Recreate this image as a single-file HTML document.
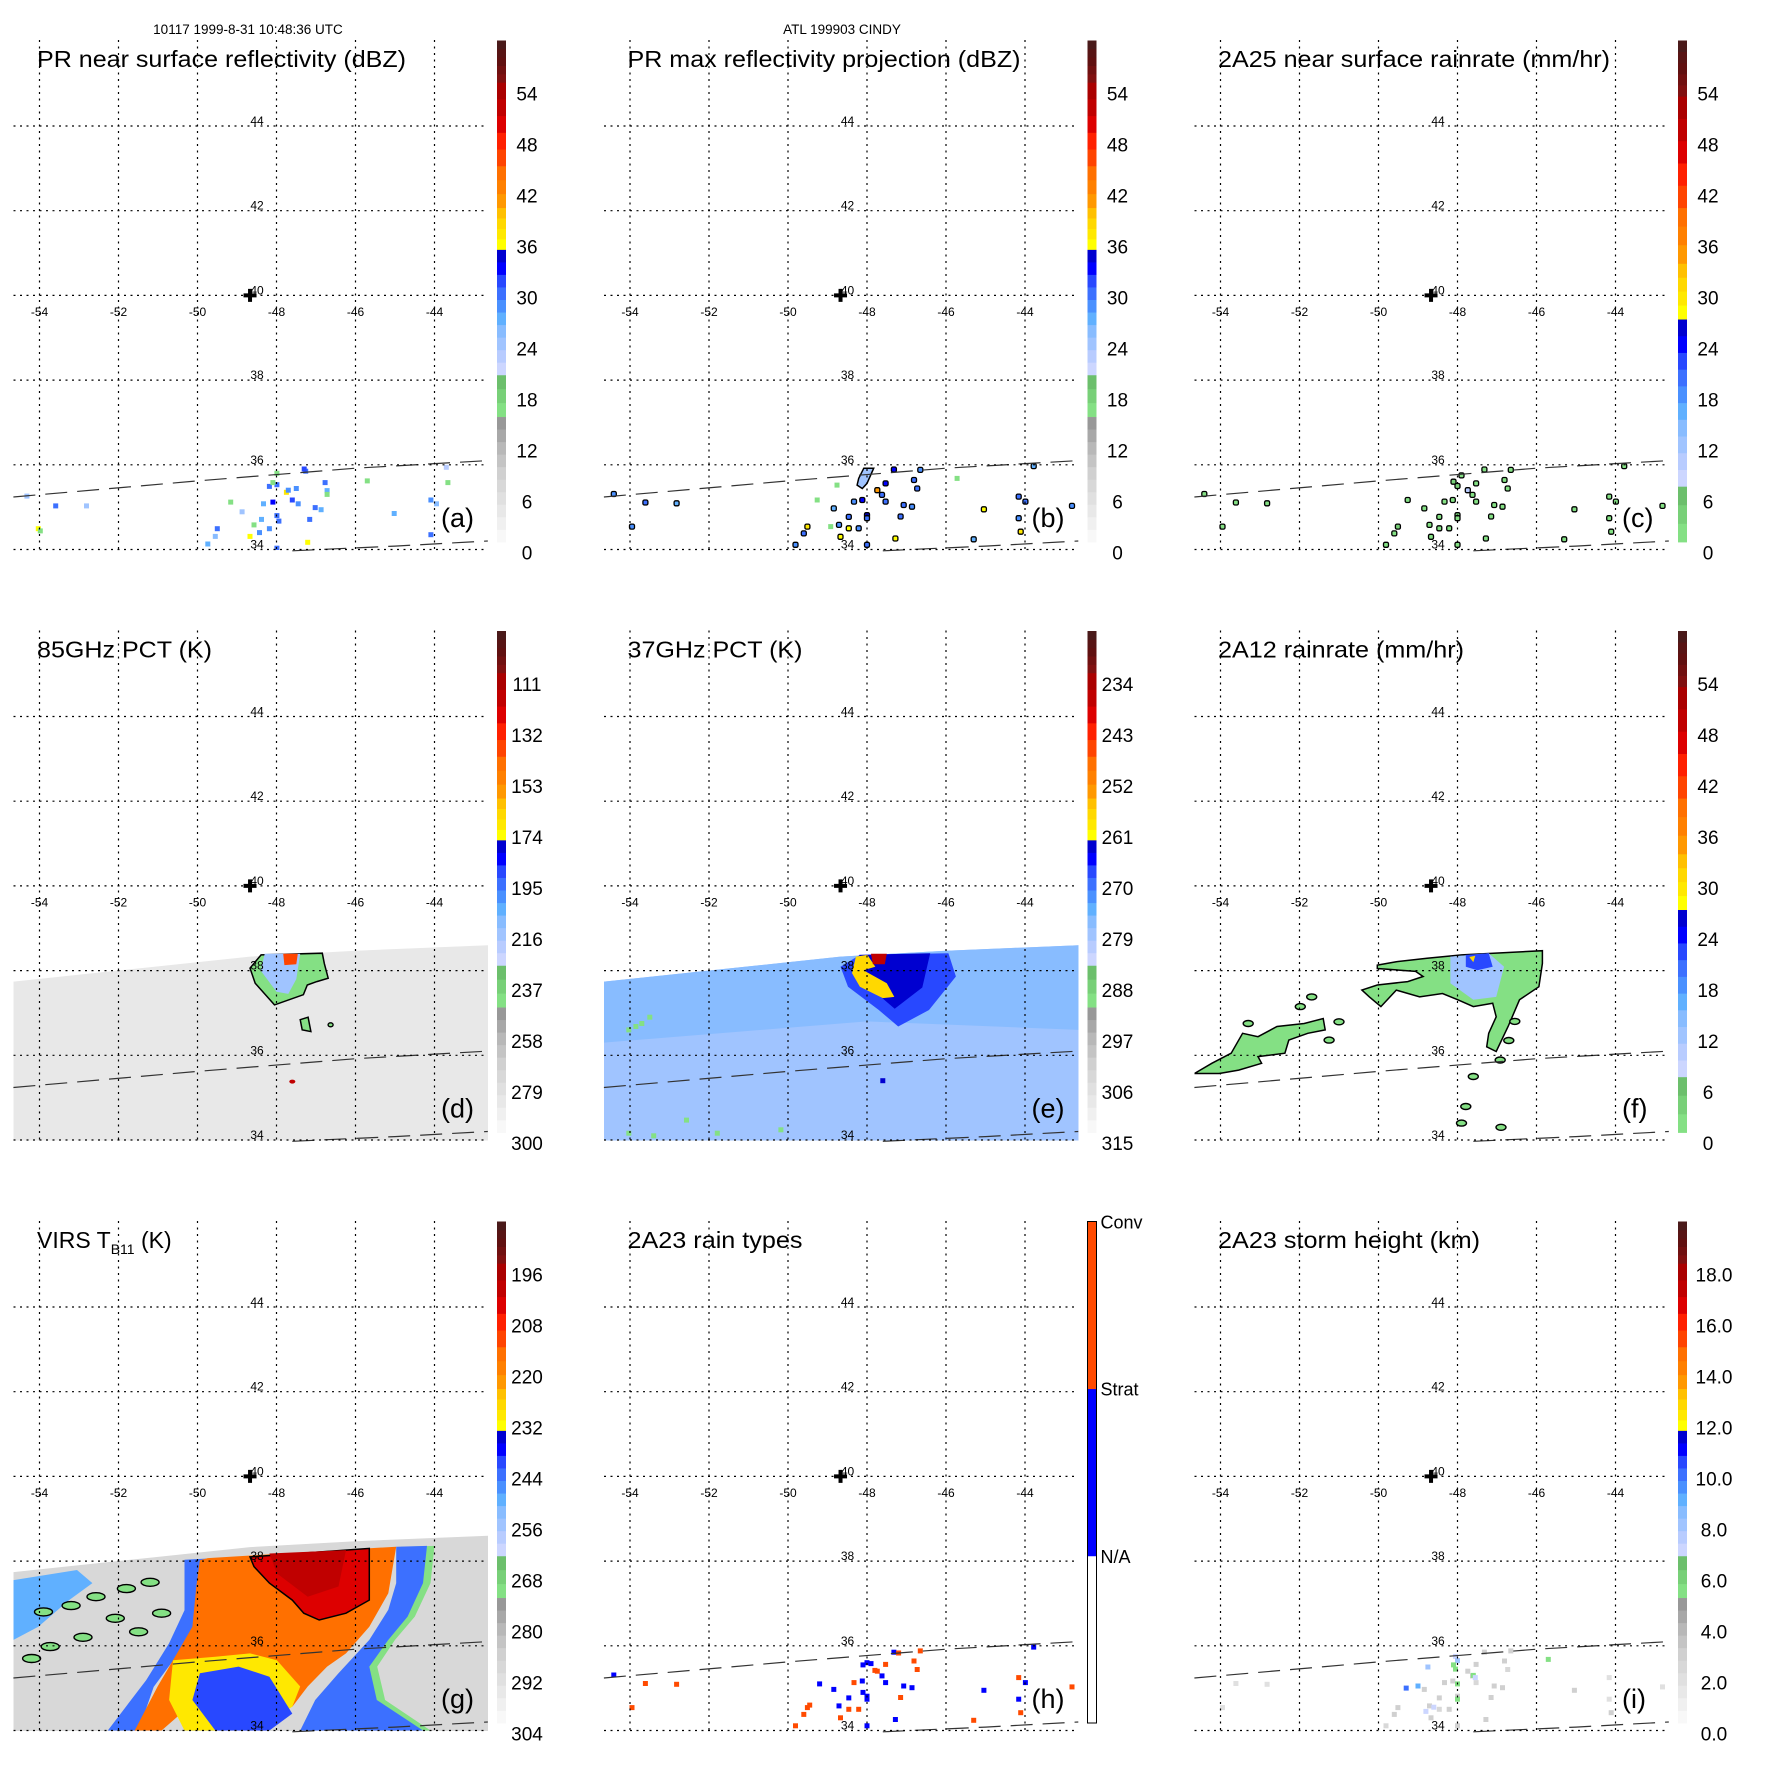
<!DOCTYPE html>
<html><head><meta charset="utf-8"><title>TRMM CINDY 1999 nine-panel</title>
<style>
html,body{margin:0;padding:0;background:#fff;}
svg{display:block;font-family:"Liberation Sans",Arial,sans-serif;}
</style></head>
<body>
<svg id="fig" width="1771" height="1771" viewBox="0 0 1771 1771" xmlns="http://www.w3.org/2000/svg">
<rect x="0" y="0" width="1771" height="1771" fill="#fff"/>
<text x="248" y="34" font-size="13.5" text-anchor="middle">10117 1999-8-31 10:48:36 UTC</text>
<text x="842" y="34" font-size="13.5" text-anchor="middle">ATL 199903 CINDY</text>
<defs id="defs"></defs>
</svg>
<script>
// ---------- DATA ----------
const lonTicks = [-54, -52, -50, -48, -46, -44];
const latTicks = [34, 36, 38, 40, 42, 44];
const centerLon = -48.67;
const centerLat = 40.0;

const labelsA = ["0","6","12","18","24","30","36","42","48","54"];
const labelsB = ["0","6","12","18","24","30","36","42","48","54"];
const labelsC = ["0","6","12","18","24","30","36","42","48","54"];
const labelsD = ["300","279","258","237","216","195","174","153","132","111"];
const labelsE = ["315","306","297","288","279","270","261","252","243","234"];
const labelsF = ["0","6","12","18","24","30","36","42","48","54"];
const labelsG = ["304","292","280","268","256","244","232","220","208","196"];
const labelsH = ["N/A","Strat","Conv"];
const labelsI = ["0.0","2.0","4.0","6.0","8.0","10.0","12.0","14.0","16.0","18.0"];

const prSwathTop = [[-54.66,35.24],[-50,35.62],[-46,35.92],[-42.65,36.1]];
const prSwathBottom = [[-47.6,33.97],[-45,34.08],[-42.65,34.2]];
const tmiSwath = [[-54.66,37.74],[-51,38.1],[-48.67,38.33],[-46,38.47],[-42.6,38.6],[-42.6,33.9],[-54.66,33.9]];

const aCells = [[-47.26,35.85,31],[-46.77,35.58,30],[-46.72,35.39,28],[-48.18,35.49,31],[-47.99,35.53,30],[-47.75,35.35,37],[-47.5,35.44,29],[-47.6,35.17,32],[-48.09,35.12,33],[-48.33,35.08,28],[-47.99,34.8,31],[-47.94,34.67,30],[-48.38,34.71,27],[-48.18,34.49,29],[-48.67,34.31,36],[-48.43,34.4,29],[-49.5,34.49,30],[-49.55,34.31,26],[-49.74,34.13,28],[-47.16,34.71,31],[-47.21,34.17,36],[-47.02,34.99,30],[-46.87,34.94,27],[-47.45,35.08,29],[-47.99,34.03,31],[-48.87,34.89,25],[-44.09,35.17,29],[-43.95,35.08,26],[-45.02,34.85,28],[-44.09,34.35,30],[-53.59,35.03,30],[-52.81,35.03,25],[-54.03,34.49,36],[-54.32,35.26,24],[-43.7,35.94,23],[-49.16,35.12,17],[-48.09,35.58,17],[-48.57,34.58,17],[-46.72,35.3,17],[-45.7,35.62,16],[-43.66,35.58,17],[-47.99,35.8,16],[-53.98,34.44,17],[-47.3,35.9,32],[-47.7,35.4,29]];

const bCells = [[-47.32,35.89,33],[-47.74,35.4,42],[-47.53,35.56,34],[-47.62,35.29,31],[-47.53,35.13,30],[-46.81,35.64,31],[-46.73,35.44,30],[-46.65,35.88,29],[-47.07,35.05,31],[-46.86,35.01,29],[-48.12,35.17,34],[-48.33,35.13,29],[-48.0,34.81,35],[-48.0,34.74,31],[-48.46,34.77,30],[-48.71,34.58,29],[-48.84,34.97,28],[-48.46,34.5,36],[-48.67,34.3,36],[-49.51,34.54,37],[-49.6,34.38,30],[-49.81,34.11,29],[-48.0,34.11,31],[-47.28,34.26,36],[-47.15,34.78,30],[-48.21,34.5,29],[-53.61,35.11,30],[-52.82,35.09,28],[-53.95,34.54,29],[-54.41,35.31,29],[-45.04,34.95,36],[-44.16,35.25,30],[-43.99,35.13,31],[-44.16,34.74,29],[-44.11,34.42,37],[-43.78,35.97,28],[-42.81,35.03,29],[-45.3,34.24,28],[-49.26,35.17,17],[-48.76,35.52,17],[-48.92,34.54,17],[-45.72,35.68,17]];
const bBlob = [[-48.08,35.92],[-47.83,35.92],[-48.0,35.56],[-48.12,35.44],[-48.25,35.52],[-48.21,35.68]];
const bBlobVal = 25;

const cCells = [[-47.32,35.89,3],[-47.74,35.4,10],[-47.53,35.56,3],[-47.62,35.29,3],[-47.53,35.13,2],[-46.81,35.64,3],[-46.73,35.44,2],[-46.65,35.88,2],[-47.07,35.05,3],[-46.86,35.01,2],[-48.12,35.17,3],[-48.33,35.13,2],[-48.0,34.81,4],[-48.0,34.74,3],[-48.46,34.77,2],[-48.71,34.58,3],[-48.84,34.97,2],[-48.46,34.5,3],[-48.67,34.3,3],[-49.51,34.54,4],[-49.6,34.38,2],[-49.81,34.11,2],[-48.0,34.11,2],[-47.28,34.26,3],[-47.15,34.78,2],[-48.21,34.5,2],[-53.61,35.11,2],[-52.82,35.09,2],[-53.95,34.54,2],[-54.41,35.31,2],[-45.04,34.95,3],[-44.16,35.25,2],[-43.99,35.13,2],[-44.16,34.74,2],[-44.11,34.42,3],[-43.78,35.97,2],[-42.81,35.03,2],[-45.3,34.24,2],[-48.1,35.6,4],[-48.0,35.5,5],[-49.26,35.17,3],[-47.9,35.75,3]];

const hCells = [[-47.32,35.85,1.5],[-47.2,35.83,2.5],[-47.74,35.4,2.5],[-47.53,35.56,2.5],[-47.62,35.29,1.5],[-47.53,35.13,1.5],[-46.81,35.64,2.5],[-46.73,35.44,2.5],[-46.65,35.88,2.5],[-47.07,35.05,1.5],[-46.86,35.01,1.5],[-48.12,35.17,1.5],[-48.33,35.13,2.5],[-48.0,34.81,1.5],[-48.0,34.74,1.5],[-48.1,34.9,1.5],[-48.46,34.77,1.5],[-48.71,34.58,1.5],[-48.84,34.97,1.5],[-48.46,34.5,2.5],[-48.67,34.3,2.5],[-49.51,34.54,2.5],[-49.45,34.6,2.5],[-49.6,34.38,2.5],[-49.81,34.11,2.5],[-48.0,34.11,1.5],[-47.28,34.26,1.5],[-47.15,34.78,2.5],[-48.21,34.5,2.5],[-53.61,35.11,2.5],[-52.82,35.09,2.5],[-53.95,34.54,2.5],[-54.41,35.31,1.5],[-45.04,34.95,1.5],[-44.16,35.25,2.5],[-43.99,35.13,1.5],[-44.16,34.74,1.5],[-44.11,34.42,2.5],[-43.78,35.97,1.5],[-42.81,35.03,2.5],[-45.3,34.24,2.5],[-48.0,35.6,1.5],[-48.1,35.55,1.5],[-47.9,35.58,1.5],[-47.8,35.42,2.5],[-49.2,35.1,1.5]];

const iCells = [[-47.32,35.85,3],[-47.74,35.4,3],[-47.53,35.56,3],[-47.62,35.29,3],[-47.53,35.13,2.5],[-46.81,35.64,3],[-46.73,35.44,2.5],[-46.65,35.88,3],[-47.07,35.05,3],[-46.86,35.01,3],[-48.12,35.17,3],[-48.33,35.13,3],[-48.0,34.81,3],[-48.0,34.74,5.5],[-48.46,34.77,3],[-48.71,34.58,3],[-48.84,34.97,3],[-48.46,34.5,2.5],[-48.67,34.3,3],[-49.51,34.54,3],[-49.6,34.38,3],[-49.81,34.11,2.5],[-48.0,34.11,3],[-47.28,34.26,3],[-47.15,34.78,3],[-48.21,34.5,3],[-53.61,35.11,2],[-52.82,35.09,2],[-53.95,34.54,2],[-45.04,34.95,3],[-44.16,35.25,2],[-44.16,34.74,2],[-44.11,34.42,3],[-42.81,35.03,2],[-48.05,35.75,7],[-48.0,35.65,8],[-48.1,35.55,5.5],[-48.05,35.45,5.5],[-47.6,35.3,5.5],[-47.55,35.25,7],[-48.0,35.1,5.5],[-48.75,35.5,8],[-49.0,35.05,9],[-49.3,35.0,10],[-48.6,34.55,7],[-48.8,34.45,7],[-45.7,35.68,5.5]];

const dRegions = [
 [[-48.39,38.37],[-48.67,38.06],[-48.54,37.7],[-48.05,37.19],[-47.32,37.43],[-47.22,37.66],[-46.98,37.74],[-46.69,37.82],[-46.79,38.17],[-46.84,38.41]],
 [[-48.3,38.4],[-47.4,38.4],[-47.5,37.8],[-47.7,37.45],[-48.0,37.5],[-48.4,38.0]],
 [[-47.83,38.4],[-47.46,38.4],[-47.5,38.15],[-47.8,38.13]],
 [[-47.4,36.84],[-47.2,36.9],[-47.13,36.56],[-47.35,36.6]]
];
const dValues = [240, 214, 140, 240];

const eRegions = [
 [[-54.66,37.74],[-51,38.1],[-48.67,38.33],[-46,38.47],[-42.6,38.6],[-42.6,36.6],[-48,36.8],[-54.66,36.3]],
 [[-48.67,38.09],[-48.18,38.37],[-45.94,38.41],[-45.75,37.86],[-46.43,37.07],[-47.21,36.68],[-47.7,37.07],[-48.48,37.62]],
 [[-48.2,38.37],[-46.4,38.41],[-46.6,37.6],[-47.3,37.1],[-47.8,37.5]],
 [[-48.28,38.33],[-47.99,38.37],[-47.79,38.09],[-48.09,38.01],[-47.5,37.7],[-47.31,37.38],[-47.6,37.35],[-48.18,37.62],[-48.38,37.94]],
 [[-47.9,38.4],[-47.5,38.4],[-47.55,38.15],[-47.85,38.15]]
];
const eValues = [275, 267, 262, 257, 236];
const eSpecks = [[-54.03,36.6,289],[-53.7,36.75,289],[-53.5,36.9,289],[-53.85,36.68,289],[-54.03,34.16,289],[-52.57,34.47,289],[-51.79,34.16,289],[-50.18,34.24,289],[-53.4,34.1,289],[-47.6,35.4,263]];

const fRegions = [
 [[-50.03,38.13],[-49.55,38.21],[-48.77,38.29],[-47.89,38.37],[-45.85,38.47],[-45.85,38.17],[-45.94,37.62],[-46.43,37.31],[-46.72,36.68],[-47.02,36.09],[-47.26,36.2],[-47.21,36.52],[-47.02,36.91],[-47.11,37.23],[-47.6,37.15],[-47.99,37.31],[-48.38,37.46],[-48.96,37.38],[-49.55,37.54],[-49.94,37.15],[-50.23,37.38],[-50.42,37.54],[-50.03,37.66],[-49.26,37.74],[-48.87,37.86],[-49.06,37.98],[-49.45,38.01],[-50.03,38.05]],
 [[-54.66,35.57],[-54.22,35.81],[-53.73,36.05],[-53.44,36.52],[-53.05,36.44],[-52.57,36.68],[-51.88,36.75],[-51.4,36.87],[-51.35,36.6],[-51.79,36.52],[-52.27,36.36],[-52.37,36.05],[-53.05,35.97],[-52.96,35.81],[-53.54,35.65],[-54.03,35.57],[-54.51,35.57]],
 [[-48.18,38.33],[-47.21,38.41],[-46.82,38.09],[-47.02,37.38],[-47.6,37.31],[-48.18,37.7]],
 [[-47.79,38.37],[-47.21,38.41],[-47.11,38.09],[-47.5,38.01],[-47.79,38.09]],
 [[-47.7,38.32],[-47.55,38.35],[-47.6,38.2]]
];
const fValues = [2, 2, 12, 22, 31];
const fOutlined = [true, true, false, false, false];
const fIslands = [[-51.98,37.15,2],[-51.69,37.38,2],[-51.0,36.79,2],[-51.25,36.36,2],[-47.79,34.79,2],[-47.6,35.5,2],[-46.92,35.89,2],[-46.55,36.8,2],[-46.7,36.35,2],[-47.9,34.4,2],[-46.9,34.3,2],[-53.3,36.75,2]];

const gRegions = [
 [[-54.66,37.55],[-53.05,37.79],[-52.66,37.48],[-53.25,37.08],[-54.03,36.45],[-54.66,36.14]],
 [[-50.33,38.03],[-49.55,38.07],[-49.74,37.08],[-50.03,36.29],[-50.42,35.9],[-51.11,35.03],[-51.49,34.0],[-52.27,34.0],[-51.3,35.19],[-50.72,36.06],[-50.33,36.84]],
 [[-44.85,38.34],[-44.0,38.36],[-44.1,37.48],[-44.5,36.69],[-45.0,36.14],[-45.45,35.51],[-45.25,34.72],[-44.1,34.0],[-47.2,34.0],[-46.85,34.72],[-46.25,35.35],[-45.5,36.14],[-45.0,36.85],[-44.8,37.48]],
 [[-44.97,38.34],[-44.19,38.36],[-44.29,37.48],[-44.68,36.69],[-45.17,36.14],[-45.65,35.51],[-45.46,34.72],[-44.29,34.0],[-47.4,34.0],[-47.02,34.72],[-46.43,35.35],[-45.65,36.14],[-45.17,36.85],[-44.97,37.48]],
 [[-49.74,38.07],[-44.97,38.34],[-45.17,37.24],[-45.65,36.45],[-46.24,35.82],[-46.72,35.51],[-47.21,35.04],[-47.6,34.56],[-48.18,35.04],[-48.67,35.66],[-49.55,35.66],[-49.94,35.04],[-50.42,34.4],[-50.91,34.0],[-51.59,34.0],[-51.01,35.04],[-50.52,35.82],[-50.13,36.45],[-50.03,37.4],[-49.94,38.02]],
 [[-50.62,35.66],[-49.55,35.74],[-48.67,35.82],[-47.99,35.66],[-47.4,35.04],[-47.6,34.56],[-48.18,34.25],[-49.16,34.0],[-50.33,34.0],[-50.72,34.72]],
 [[-49.94,35.35],[-48.96,35.51],[-48.18,35.27],[-47.6,34.4],[-48.18,34.0],[-49.55,34.0],[-50.13,34.72]],
 [[-48.67,38.1],[-45.65,38.3],[-45.65,37.08],[-46.24,36.77],[-46.92,36.61],[-47.31,36.77],[-47.6,37.08],[-48.18,37.48],[-48.57,37.87]],
 [[-48.18,38.18],[-46.24,38.26],[-46.43,37.4],[-47.21,37.16],[-47.99,37.71]]
];
const gValues = [250, 244, 270, 244, 215, 230, 240, 205, 198];
const gOutlined = [false, false, false, false, false, false, false, true, false];
const gBlobs = [[-52.08,36.65,270],[-51.49,36.33,270],[-50.91,36.77,270],[-53.73,35.98,270],[-52.57,37.16,270],[-53.2,36.95,270],[-52.9,36.2,270],[-54.2,35.7,270],[-51.8,37.35,270],[-53.9,36.8,270],[-51.2,37.5,270]];

// ---------- LAYOUT / HELPERS ----------
const NS = "http://www.w3.org/2000/svg";
const svg = document.getElementById("fig");
const defs = document.getElementById("defs");
const STEP = 590.5;
function X(lon){ return 39.5 + (lon + 54) * 39.5; }
function Y(lat){ return 549.5 - (lat - 34) * 42.35; }
function mk(tag, attrs, parent){
  const e = document.createElementNS(NS, tag);
  for (const k in attrs) e.setAttribute(k, attrs[k]);
  parent.appendChild(e);
  return e;
}
function ptsStr(list){ return list.map(p => X(p[0]).toFixed(1) + "," + Y(p[1]).toFixed(1)).join(" "); }

const bandColors = [
 ["#f8f8f8","#f0f0f0","#e8e8e8","#e0e0e0","#d8d8d8","#d0d0d0","#c4c4c4","#b8b8b8","#a8a8a8","#989898"],
 ["#84e084","#78d078","#6cbf6c"],
 ["#ccd6ff","#b8ccff","#a0c4ff","#88bcff","#60b0ff","#4a90ff","#3c70ff","#2848ff","#0000ff","#0000d0"],
 ["#ffff00","#ffe800","#ffd800","#ffc000"],
 ["#ff9800","#ff8000","#ff7000"],
 ["#ff4400","#ff2000","#dd0000","#c00000","#aa0000"],
 ["#801010","#701010","#601010","#581414","#4a1a1a"]
];
const bandFracs = [0.25, 0.08333, 0.25, 0.08333, 0.08333, 0.16667, 0.08333];
function buildMap(noGrey){
  const segs = []; let start = noGrey ? 1 : 0; let tot = 0;
  for (let b = start; b < bandColors.length; b++) tot += bandFracs[b];
  let acc = 0;
  for (let b = start; b < bandColors.length; b++){
    const n = bandColors[b].length; const h = bandFracs[b] / tot / n;
    for (let i = 0; i < n; i++){ segs.push({c: bandColors[b][i], lo: acc, hi: acc + h}); acc += h; }
  }
  return segs;
}
const mapMain = buildMap(false);
const mapNoGrey = buildMap(true);
const mapRain = [{c:"#ffffff",lo:0,hi:1/3},{c:"#0000ff",lo:1/3,hi:2/3},{c:"#ff4a00",lo:2/3,hi:1}];

const panels = [
 {id:"a", col:0,row:0,title:"PR near surface reflectivity (dBZ)",tl:369,labels:labelsA,map:mapMain,v0:0,step:6},
 {id:"b", col:1,row:0,title:"PR max reflectivity projection (dBZ)",tl:393,labels:labelsB,map:mapMain,v0:0,step:6},
 {id:"c", col:2,row:0,title:"2A25 near surface rainrate (mm/hr)",tl:392,labels:labelsC,map:mapNoGrey,v0:0,step:6},
 {id:"d", col:0,row:1,title:"85GHz PCT (K)",tl:175,labels:labelsD,map:mapMain,v0:300,step:-21},
 {id:"e", col:1,row:1,title:"37GHz PCT (K)",tl:175,labels:labelsE,map:mapMain,v0:315,step:-9},
 {id:"f", col:2,row:1,title:"2A12 rainrate (mm/hr)",tl:246,labels:labelsF,map:mapNoGrey,v0:0,step:6},
 {id:"g", col:0,row:2,title:"VIRS T",tl:0,labels:labelsG,map:mapMain,v0:304,step:-12},
 {id:"h", col:1,row:2,title:"2A23 rain types",tl:175,labels:labelsH,map:mapRain,v0:0,step:1},
 {id:"i", col:2,row:2,title:"2A23 storm height (km)",tl:262,labels:labelsI,map:mapMain,v0:0,step:2}
];
function colorOf(p, v){
  let f;
  if (p.id === "h") f = v / 3;
  else f = -0.02 + 0.102 * (v - p.v0) / p.step;
  f = Math.max(0, Math.min(0.9999, f));
  for (const s of p.map) if (f >= s.lo && f < s.hi) return s.c;
  return p.map[p.map.length-1].c;
}

const BAR_X = 497, BAR_W = 9, BAR_TOP = 40.5, BAR_BOT = 542;

panels.forEach(p => {
  const g = mk("g", {transform: "translate(" + (p.col*STEP).toFixed(1) + "," + (p.row*STEP).toFixed(1) + ")"}, svg);
  
  
  const cp = mk("clipPath", {id: "clip-" + p.id}, defs);
  mk("rect", {x: 13.5, y: 38, width: 474.5, height: 512}, cp);
  const data = mk("g", {"clip-path": "url(#clip-" + p.id + ")"}, g);
  
  

  function cell(lon, lat, v, stroke){
    const r = mk("rect", {x: (X(lon)-2.5).toFixed(1), y: (Y(lat)-2.5).toFixed(1), width: 5, height: 5, fill: colorOf(p, v)}, data);
    if (stroke){ r.setAttribute("stroke", "#000"); r.setAttribute("stroke-width", "1.3"); r.setAttribute("rx", "1.5"); }
    
    
  }
  function region(list, v, outline){
    const pg = mk("polygon", {points: ptsStr(list), fill: colorOf(p, v)}, data);
    if (outline){ pg.setAttribute("stroke", "#000"); pg.setAttribute("stroke-width", "1.5"); }
    
    
  }
  function blob(lon, lat, v, rx, ry, outline){
    const e = mk("ellipse", {cx: X(lon).toFixed(1), cy: Y(lat).toFixed(1), rx: rx, ry: ry, fill: colorOf(p, v)}, data);
    if (outline){ e.setAttribute("stroke", "#000"); e.setAttribute("stroke-width", "1.4"); }
    
    
  }

  if (p.id === "a") aCells.forEach(c => cell(c[0], c[1], c[2], false));
  if (p.id === "b"){ region(bBlob, bBlobVal, true); bCells.forEach(c => cell(c[0], c[1], c[2], c[2] > 20)); }
  if (p.id === "c") cCells.forEach(c => cell(c[0], c[1], c[2], true));
  if (p.id === "h") hCells.forEach(c => cell(c[0], c[1], c[2], false));
  if (p.id === "i") iCells.forEach(c => cell(c[0], c[1], c[2], false));
  if (p.id === "d"){
    region(tmiSwath, 285, false);
    dRegions.forEach((r, k) => region(r, dValues[k], k === 0 || k === 3));
    blob(-47.6, 35.38, 120, 3, 2, false);
    blob(-46.63, 36.72, 240, 2.5, 2, true);
  }
  if (p.id === "e"){
    region(tmiSwath, 279, false);
    eRegions.forEach((r, k) => region(r, eValues[k], false));
    eSpecks.forEach(s => cell(s[0], s[1], s[2], false));
  }
  if (p.id === "f"){
    fRegions.forEach((r, k) => region(r, fValues[k], fOutlined[k]));
    fIslands.forEach(s => blob(s[0], s[1], s[2], 5, 3, true));
  }
  if (p.id === "g"){
    region(tmiSwath, 288, false);
    gRegions.forEach((r, k) => region(r, gValues[k], gOutlined[k]));
    gBlobs.forEach(s => blob(s[0], s[1], s[2], 9, 4, true));
  }

  [prSwathTop, prSwathBottom].forEach(line => {
    const pl = mk("polyline", {points: ptsStr(line), fill: "none", stroke: "#333", "stroke-width": 1.2, "stroke-dasharray": "22,10"}, g);
    
    
  });

  lonTicks.forEach(lon => {
    const l = mk("line", {x1: X(lon), x2: X(lon), y1: 40, y2: 549.5, stroke: "#000", "stroke-width": 1.2, "stroke-dasharray": "2,4.5"}, g);
    
    
    const t = mk("text", {x: X(lon), y: 316, "font-size": 12, "text-anchor": "middle"}, g);
    t.textContent = String(lon);
    
    
  });
  latTicks.forEach(lat => {
    const l = mk("line", {x1: 13.5, x2: 488, y1: Y(lat), y2: Y(lat), stroke: "#000", "stroke-width": 1.2, "stroke-dasharray": "2,4.5"}, g);
    
    
    const t = mk("text", {x: 257, y: Y(lat) - 1, "font-size": 12, "text-anchor": "middle"}, g);
    t.textContent = String(lat);
    
    
  });

  const cx = X(centerLon), cy = Y(centerLat);
  const cr = mk("path", {d: "M" + (cx-6.5) + "," + cy + "H" + (cx+6.5) + "M" + cx + "," + (cy-6.5) + "V" + (cy+6.5), stroke: "#000", "stroke-width": 4}, g);
  
  

  const tt = mk("text", {x: 37, y: 67, "font-size": 23}, g);
  if (p.id === "g"){
    tt.textContent = "VIRS T";
    const sub = mk("tspan", {"font-size": 14, dy: 6}, tt); sub.textContent = "B11";
    const rest = mk("tspan", {dy: -6}, tt); rest.textContent = " (K)";
  } else {
    tt.textContent = p.title;
    tt.setAttribute("textLength", p.tl);
    tt.setAttribute("lengthAdjust", "spacingAndGlyphs");
  }
  
  

  const lt = mk("text", {x: 441, y: 527, "font-size": 27}, g);
  lt.textContent = "(" + p.id + ")";
  
  

  const cb = mk("g", {}, g);
  
  
  const H = BAR_BOT - BAR_TOP;
  p.map.forEach(s => {
    const r = mk("rect", {x: BAR_X, y: (BAR_BOT - s.hi*H).toFixed(2), width: BAR_W, height: ((s.hi - s.lo)*H + 0.4).toFixed(2), fill: s.c}, cb);
    
    
  });
  if (p.id === "h"){
    const bd = mk("rect", {x: BAR_X, y: BAR_TOP, width: BAR_W, height: H, fill: "none", stroke: "#000", "stroke-width": 1}, cb);
    
    
    p.labels.forEach((lab, k) => {
      const t = mk("text", {x: 510, y: BAR_BOT - (k+1)/3*H + 7, "font-size": 18}, cb);
      t.textContent = lab;
      
      
    });
  } else {
    p.labels.forEach((lab, k) => {
      const yc = 552.7 - 51*k;
      const t = mk("text", {x: p.id === "i" ? 533 : 527, y: yc + 7, "font-size": 19, "text-anchor": "middle"}, cb);
      t.textContent = lab;
      
      
    });
  }
});
</script>
</body></html>
